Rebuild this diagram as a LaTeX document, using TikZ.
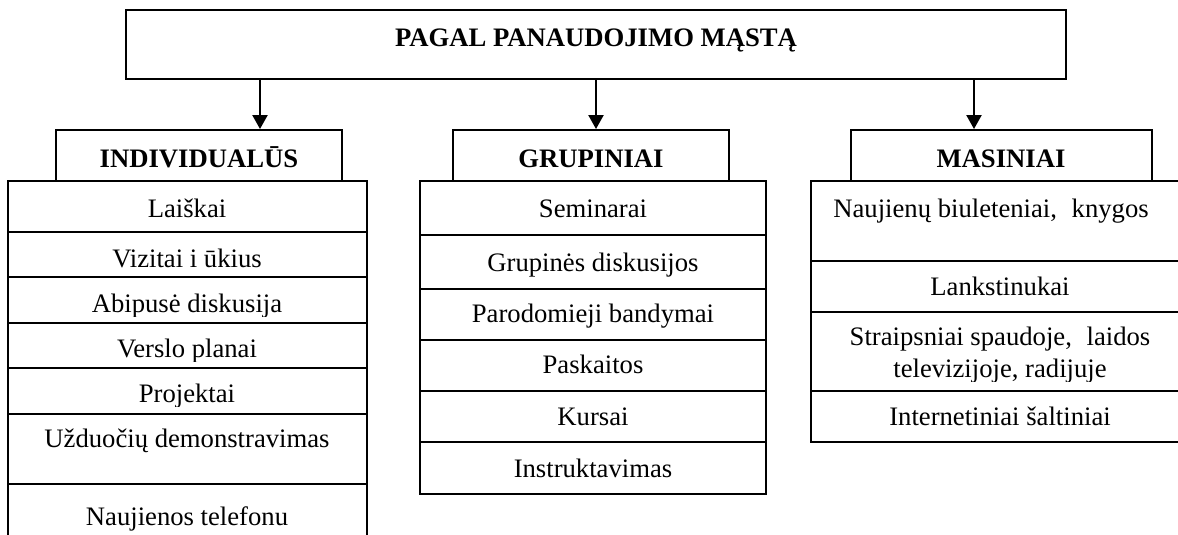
\documentclass[tikz,border=0pt]{standalone}
\usepackage{fontspec}
\setmainfont{Liberation Serif}
\usetikzlibrary{arrows.meta,fit}

\tikzset{
  frame/.style={draw, line width=0.9pt, inner sep=0pt},
  rule/.style={line width=0.9pt},
  itm/.style={anchor=base, inner sep=0pt, font=\fontsize{12}{14}\selectfont},
  hdr/.style={anchor=base, inner sep=0pt, font=\bfseries\fontsize{12}{14}\selectfont},
  arr/.style={line width=0.9pt, -{Triangle[length=6.3pt,width=6.8pt]}}
}

\begin{document}
\begin{tikzpicture}[x=0.45pt, y=-0.45pt]
\useasboundingbox (0,0) rectangle (1178,535);

% virsutine deze
\node[frame, fit={(126,10) (1066,79)}] (scale) {};
\node[hdr] (scalet) at (596,46) {PAGAL PANAUDOJIMO MĄSTĄ};

% grupiu antrastes
\node[frame, fit={(55.5,130) (342,181)}] (indiv) {};
\node[frame, fit={(452.5,130) (729,181)}] (group) {};
\node[frame, fit={(850.5,130) (1152,181)}] (mass) {};
\node[hdr] (indivt) at (199,167) {INDIVIDUALŪS};
\node[hdr] (groupt) at (591,167) {GRUPINIAI};
\node[hdr] (masst) at (1001,167) {MASINIAI};

% rodykles
\coordinate (a1) at (260,0);
\coordinate (a2) at (596,0);
\coordinate (a3) at (974,0);
\draw[arr] (scale.south -| a1) -- (indiv.north -| a1);
\draw[arr] (scale.south -| a2) -- (group.north -| a2);
\draw[arr] (scale.south -| a3) -- (mass.north -| a3);

% individualus
\draw[rule] (7.5,535) -- (7.5,181) -- (367,181) -- (367,535);
\draw[rule] (7.5,232) -- (367,232);
\draw[rule] (7.5,277) -- (367,277);
\draw[rule] (7.5,323) -- (367,323);
\draw[rule] (7.5,368) -- (367,368);
\draw[rule] (7.5,414) -- (367,414);
\draw[rule] (7.5,484) -- (367,484);
\node[itm] (i1) at (187,217) {Laiškai};
\node[itm] (i2) at (187,267) {Vizitai i ūkius};
\begin{scope}
  \clip (0,0) rectangle (1178,316);
  \node[itm] (i3) at (187,312) {Abipusė diskusija};
\end{scope}
\begin{scope}
  \clip (0,0) rectangle (1178,361);
  \node[itm] (i4) at (187,357) {Verslo planai};
\end{scope}
\begin{scope}
  \clip (0,0) rectangle (1178,406);
  \node[itm] (i5) at (187,402) {Projektai};
\end{scope}
\node[itm] (i6) at (187,447) {Užduočių demonstravimas};
\node[itm] (i7) at (187,525) {Naujienos telefonu};

% grupiniai
\draw[rule] (420,181) rectangle (765.5,493.5);
\draw[rule] (420,234.5) -- (765.5,234.5);
\draw[rule] (420,288.5) -- (765.5,288.5);
\draw[rule] (420,340) -- (765.5,340);
\draw[rule] (420,391) -- (765.5,391);
\draw[rule] (420,442) -- (765.5,442);
\node[itm] (g1) at (593,217) {Seminarai};
\node[itm] (g2) at (593,271) {Grupinės diskusijos};
\node[itm] (g3) at (593,322) {Parodomieji bandymai};
\node[itm] (g4) at (593,373) {Paskaitos};
\node[itm] (g5) at (593,425) {Kursai};
\node[itm] (g6) at (593,477) {Instruktavimas};

% masiniai
\draw[rule] (1178,181) -- (811,181) -- (811,442) -- (1178,442);
\draw[rule] (811,260.5) -- (1178,260.5);
\draw[rule] (811,312) -- (1178,312);
\draw[rule] (811,391) -- (1178,391);
\node[itm] (m1) at (991,217) {Naujienų biuleteniai,\hspace{0.3em} knygos};
\node[itm] (m2) at (1000,295) {Lankstinukai};
\node[itm] (m3) at (1000,345) {Straipsniai spaudoje,\hspace{0.3em} laidos};
\begin{scope}
  \clip (0,0) rectangle (1178,381);
  \node[itm] (m4) at (1000,377) {televizijoje, radijuje};
\end{scope}
\node[itm] (m5) at (1000,425) {Internetiniai šaltiniai};
\end{tikzpicture}
\end{document}
